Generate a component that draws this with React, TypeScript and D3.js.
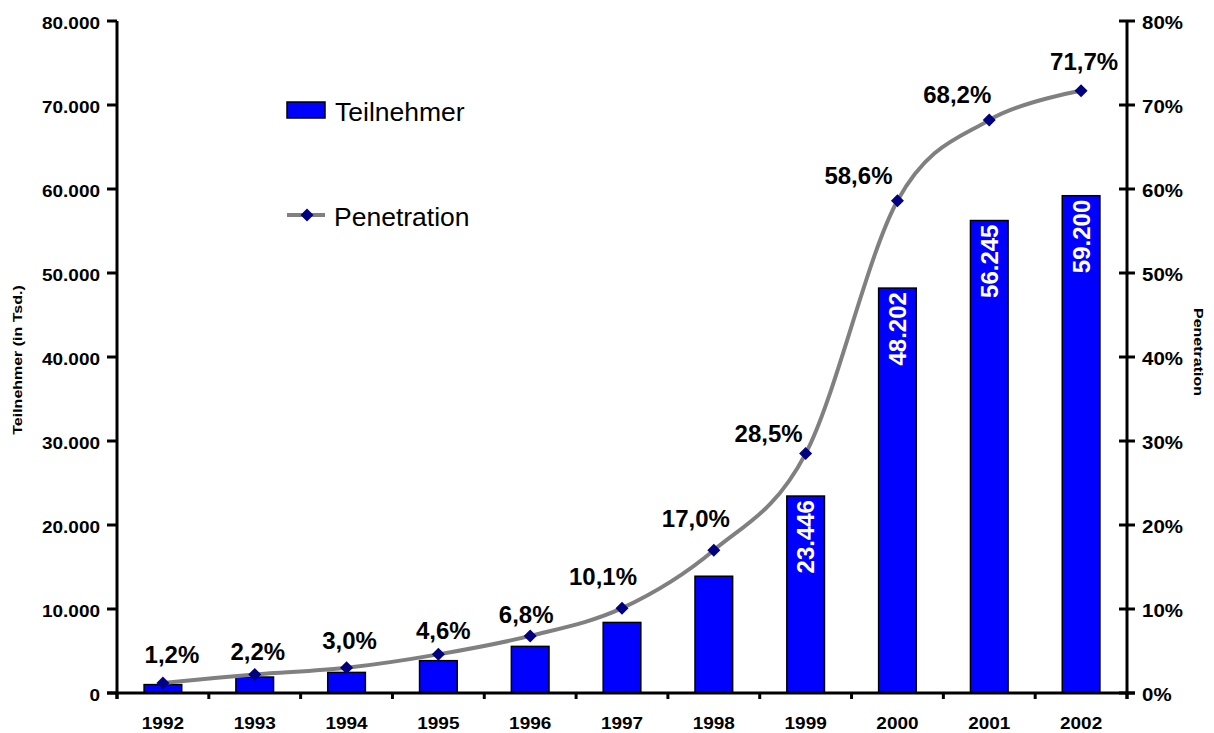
import React from 'react';
import * as d3 from 'd3';

const years = ['1992', '1993', '1994', '1995', '1996', '1997', '1998', '1999', '2000', '2001', '2002'];
const teilnehmer = [1000, 1900, 2450, 3850, 5550, 8400, 13900, 23446, 48202, 56245, 59200];
const penetration = [1.2, 2.2, 3.0, 4.6, 6.8, 10.1, 17.0, 28.5, 58.6, 68.2, 71.7];
const leftTicks = [0, 10000, 20000, 30000, 40000, 50000, 60000, 70000, 80000];
const rightTicks = [0, 10, 20, 30, 40, 50, 60, 70, 80];
// label offsets (dx, dy) relative to marker
const labelOffsets: [number, number][] = [
  [9, -20], [3, -15], [3, -19], [5, -15], [-4, -13], [-19, -23], [-18, -23], [-37, -12], [-39, -17], [-32, -17], [3, -21],
];

const W = 1214;
const H = 733;
const left = 117;
const right = 1127;
const top = 21;
const bottom = 693;
const FONT = "'Liberation Sans', Arial, sans-serif";

const fmtDE = (v: number) => d3.format(',')(v).replace(/,/g, '.');
const fmtPct = (v: number) => v.toFixed(1).replace('.', ',') + '%';

export default function App() {
  const x = d3.scaleBand<string>().domain(years).range([left, right]).padding(0);
  const yL = d3.scaleLinear().domain([0, 80000]).range([bottom, top]);
  const yR = d3.scaleLinear().domain([0, 80]).range([bottom, top]);
  const bw = x.bandwidth() * 0.41;
  const cx = (yr: string) => (x(yr) as number) + x.bandwidth() / 2;

  const line = d3
    .line<number>()
    .x((_, i) => cx(years[i]))
    .y((d) => yR(d))
    .curve(d3.curveCatmullRom.alpha(0));

  const diamond = (px: number, py: number, r = 6.5) =>
    `M${px},${py - r}L${px + r},${py}L${px},${py + r}L${px - r},${py}Z`;

  const bandEdges = years.map((yr) => x(yr) as number).concat([right]);

  return (
    <svg width={W} height={H} style={{ position: 'absolute', left: 0, top: 0, background: '#fff' }} fontFamily={FONT}>
      {/* bars */}
      {teilnehmer.map((v, i) => (
        <rect
          key={'b' + i}
          x={cx(years[i]) - bw / 2}
          y={yL(v)}
          width={bw}
          height={bottom - yL(v)}
          fill="#0000FF"
          stroke="#000"
          strokeWidth={1.5}
        />
      ))}
      {/* bar value labels */}
      {teilnehmer.map((v, i) =>
        v > 20000 ? (
          <text
            key={'bl' + i}
            transform={`translate(${cx(years[i])},${yL(v) + 4}) rotate(-90)`}
            textAnchor="end"
            dy="0.36em"
            fill="#fff"
            fontWeight="bold"
            fontSize={24}
          >
            {fmtDE(v)}
          </text>
        ) : null
      )}
      {/* line */}
      <path d={line(penetration) || ''} fill="none" stroke="#808080" strokeWidth={4} />
      {penetration.map((p, i) => (
        <path key={'m' + i} d={diamond(cx(years[i]), yR(p))} fill="#000080" />
      ))}
      {penetration.map((p, i) => (
        <text
          key={'pl' + i}
          x={cx(years[i]) + labelOffsets[i][0]}
          y={yR(p) + labelOffsets[i][1]}
          textAnchor="middle"
          fontWeight="bold"
          fontSize={24}
          fill="#000"
        >
          {fmtPct(p)}
        </text>
      ))}

      {/* axes */}
      <line x1={left} y1={top} x2={left} y2={bottom + 6} stroke="#000" strokeWidth={3} />
      <line x1={right} y1={top} x2={right} y2={bottom + 6} stroke="#000" strokeWidth={3} />
      <line x1={left - 10} y1={bottom} x2={right + 8} y2={bottom} stroke="#000" strokeWidth={3} />
      {leftTicks.map((t) => (
        <g key={'lt' + t}>
          <line x1={left - 10} x2={left} y1={yL(t)} y2={yL(t)} stroke="#000" strokeWidth={3} />
          <text
            transform={`translate(100,${yL(t) + 2}) scale(1.15,1)`}
            textAnchor="end"
            dy="0.36em"
            fontWeight="bold"
            fontSize={16.5}
          >
            {fmtDE(t)}
          </text>
        </g>
      ))}
      {rightTicks.map((t) => (
        <g key={'rt' + t}>
          <line x1={right - 8} x2={right + 8} y1={yR(t)} y2={yR(t)} stroke="#000" strokeWidth={3} />
          <text
            transform={`translate(1142,${yR(t) + 2}) scale(1.17,1)`}
            textAnchor="start"
            dy="0.36em"
            fontWeight="bold"
            fontSize={17.5}
          >
            {t + '%'}
          </text>
        </g>
      ))}
      {bandEdges.map((e, i) => (
        <line key={'xt' + i} x1={e} x2={e} y1={bottom} y2={bottom + 6} stroke="#000" strokeWidth={3} />
      ))}
      {years.map((yr) => (
        <text
          key={'yl' + yr}
          transform={`translate(${cx(yr)},729) scale(1.15,1)`}
          textAnchor="middle"
          fontWeight="bold"
          fontSize={16.5}
        >
          {yr}
        </text>
      ))}

      {/* axis titles */}
      <text
        transform={`translate(18,360) rotate(-90) scale(1,0.8)`}
        textAnchor="middle"
        dominantBaseline="central"
        fontWeight="bold"
        fontSize={16}
      >
        Teilnehmer (in Tsd.)
      </text>
      <text
        transform={`translate(1198,352) rotate(90) scale(1,0.8)`}
        textAnchor="middle"
        dominantBaseline="central"
        fontWeight="bold"
        fontSize={16}
      >
        Penetration
      </text>

      {/* legend */}
      <rect x={287} y={102} width={38} height={16} fill="#0000FF" stroke="#000" strokeWidth={1.5} />
      <text x={335} y={121} fontSize={26.5}>
        Teilnehmer
      </text>
      <line x1={287} x2={325} y1={215} y2={215} stroke="#808080" strokeWidth={4} />
      <path d={diamond(307, 215)} fill="#000080" />
      <text x={334} y={226} fontSize={26.5}>
        Penetration
      </text>
    </svg>
  );
}
